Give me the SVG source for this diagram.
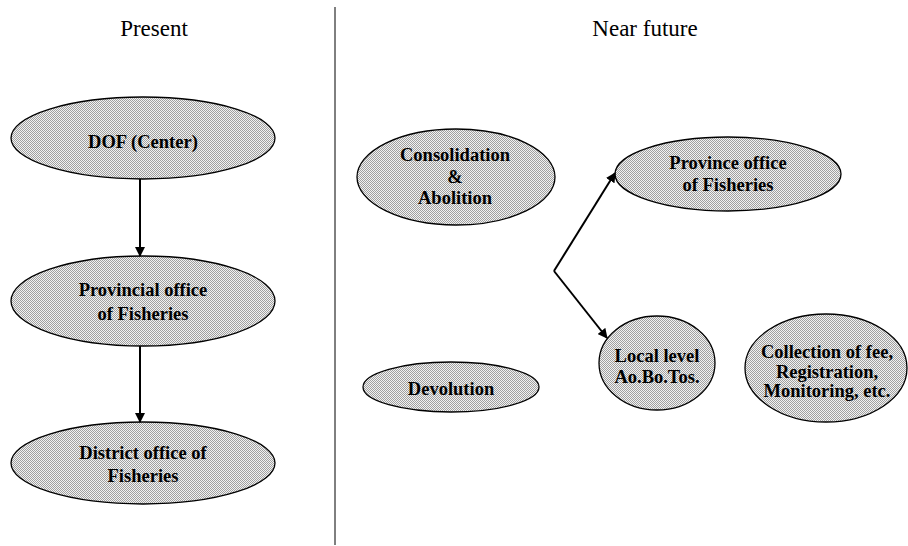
<svg xmlns="http://www.w3.org/2000/svg" width="908" height="546" viewBox="0 0 908 546">
  <defs>
    <!-- fine dot screen used as the node fill -->
    <pattern id="dots" width="2" height="2" patternUnits="userSpaceOnUse">
      <rect width="2" height="2" fill="#f2f2f2"/>
      <rect width="1" height="1" fill="#a0a0a0"/>
      <rect x="1" y="1" width="1" height="1" fill="#a0a0a0"/>
    </pattern>
    <marker id="arrow" viewBox="0 0 10 10" refX="9" refY="5" markerWidth="5" markerHeight="5" markerUnits="strokeWidth" orient="auto">
      <path d="M0,0 L10,5 L0,10 z" fill="#000"/>
    </marker>
    <style>
      .node ellipse { fill: url(#dots); stroke: #000; stroke-width: 1.3; }
      .label { font-family: "Liberation Serif", "Times New Roman", serif; font-weight: bold; font-size: 18.5px; fill: #000; text-anchor: middle; }
      .title { font-family: "Liberation Serif", "Times New Roman", serif; font-size: 23px; fill: #000; text-anchor: middle; }
      .edge { fill: none; stroke: #000; stroke-width: 2; marker-end: url(#arrow); }
    </style>
  </defs>
  <rect width="908" height="546" fill="#fff"/>

  <!-- column headings and divider -->
  <text class="title" x="154" y="36">Present</text>
  <text class="title" x="645" y="36">Near future</text>
  <line x1="335" y1="7" x2="335" y2="545" stroke="#000" stroke-width="1"/>

  <!-- present structure -->
  <g id="dof-center" class="node">
    <ellipse cx="143" cy="138" rx="132" ry="41"/>
    <text class="label" x="143" y="148">DOF (Center)</text>
  </g>
  <g id="provincial-office" class="node">
    <ellipse cx="143" cy="301" rx="132" ry="45"/>
    <text class="label" x="143" y="296">Provincial office</text>
    <text class="label" x="143" y="320">of Fisheries</text>
  </g>
  <g id="district-office" class="node">
    <ellipse cx="143" cy="463" rx="132" ry="41"/>
    <text class="label" x="143" y="459">District office of</text>
    <text class="label" x="143" y="482">Fisheries</text>
  </g>

  <!-- near-future structure -->
  <g id="consolidation" class="node">
    <ellipse cx="456" cy="177" rx="99" ry="48"/>
    <text class="label" x="455" y="161">Consolidation</text>
    <text class="label" x="455" y="183">&amp;</text>
    <text class="label" x="455" y="204">Abolition</text>
  </g>
  <g id="province-office" class="node">
    <ellipse cx="728" cy="174" rx="113" ry="37"/>
    <text class="label" x="728" y="169">Province office</text>
    <text class="label" x="728" y="191">of Fisheries</text>
  </g>
  <g id="devolution" class="node">
    <ellipse cx="451" cy="387" rx="88" ry="25"/>
    <text class="label" x="451" y="395">Devolution</text>
  </g>
  <g id="local-level" class="node">
    <ellipse cx="657" cy="363" rx="58" ry="47"/>
    <text class="label" x="657" y="362">Local level</text>
    <text class="label" x="657" y="383">Ao.Bo.Tos.</text>
  </g>
  <g id="collection" class="node">
    <ellipse cx="826" cy="368" rx="81" ry="54"/>
    <text class="label" x="827" y="358">Collection of fee,</text>
    <text class="label" x="827" y="378">Registration,</text>
    <text class="label" x="827" y="397">Monitoring, etc.</text>
  </g>

  <!-- connectors -->
  <g id="connectors">
    <line class="edge" x1="140" y1="179" x2="140" y2="256"/>
    <line class="edge" x1="140" y1="346" x2="140" y2="422"/>
    <polyline class="edge" points="554,271 615,173"/>
    <polyline class="edge" points="554,271 607,338"/>
  </g>
</svg>
